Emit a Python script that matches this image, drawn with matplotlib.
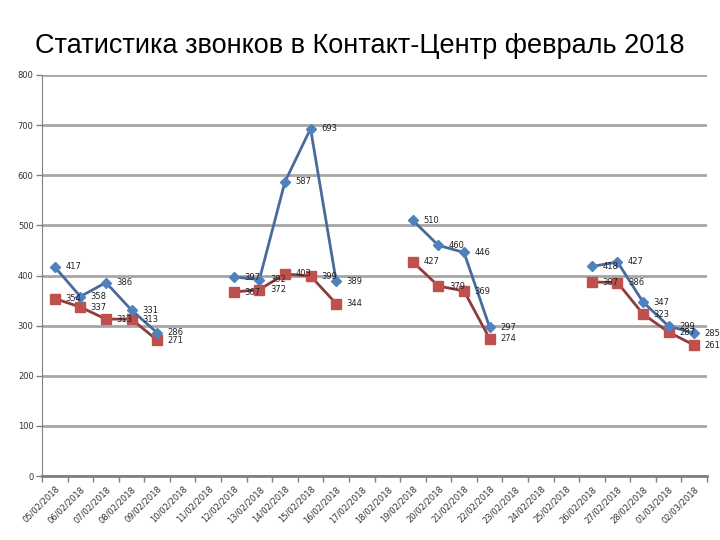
import matplotlib
matplotlib.use("Agg")
import matplotlib.pyplot as plt
import numpy as np

dates = ["05/02/2018", "06/02/2018", "07/02/2018", "08/02/2018", "09/02/2018",
         "10/02/2018", "11/02/2018", "12/02/2018", "13/02/2018", "14/02/2018",
         "15/02/2018", "16/02/2018", "17/02/2018", "18/02/2018", "19/02/2018",
         "20/02/2018", "21/02/2018", "22/02/2018", "23/02/2018", "24/02/2018",
         "25/02/2018", "26/02/2018", "27/02/2018", "28/02/2018", "01/03/2018",
         "02/03/2018"]
received = [417, 358, 386, 331, 286, None, None, 397, 392, 587, 693, 389, None, None,
            510, 460, 446, 297, None, None, None, 418, 427, 347, 299, 285]
answered = [354, 337, 313, 313, 271, None, None, 367, 372, 403, 399, 344, None, None,
            427, 379, 369, 274, None, None, None, 387, 386, 323, 287, 261]
y_ticks = [0, 100, 200, 300, 400, 500, 600, 700, 800]
title = "Статистика звонков в Контакт-Центр февраль 2018"

fig = plt.figure(figsize=(7.2, 5.4), dpi=100)
ax = fig.add_axes([42/720, 1-476/540, (707-42)/720, (476-75)/540])

x = np.arange(len(dates))
def arr(v):
    return np.array([np.nan if a is None else a for a in v], dtype=float)
r = arr(received)
a = arr(answered)

ax.plot(x, r, color="#4a6a9c", lw=2, marker="D", ms=5, mfc="#4f81bd", mec="#4f81bd", zorder=4)
ax.plot(x, a, color="#8e3b3a", lw=2, marker="s", ms=7.5, mfc="#c0504d", mec="#c0504d", zorder=3)

for xi, v in zip(x, received):
    if v is not None:
        ax.annotate(str(v), (xi, v), xytext=(7.5, 0), textcoords="offset points",
                    fontsize=6, va="center", ha="left", color="#222222", zorder=5)
for xi, v in zip(x, answered):
    if v is not None:
        ax.annotate(str(v), (xi, v), xytext=(7.5, 0), textcoords="offset points",
                    fontsize=6, va="center", ha="left", color="#222222", zorder=5)

ax.set_xlim(-0.5, len(dates) - 0.5)
ax.set_ylim(0, 800)
ax.set_yticks(y_ticks)
ax.set_yticklabels([str(t) for t in y_ticks], fontsize=6, color="#333333")
ax.set_xticks(x)
ax.set_xticklabels(dates, rotation=45, ha="right", rotation_mode="anchor", fontsize=6, color="#333333")
ax.set_xticks(np.arange(-0.5, len(dates)), minor=True)
ax.tick_params(axis="x", which="major", length=0, pad=6)
ax.tick_params(axis="x", which="minor", length=4, width=1, color="#808080")
ax.tick_params(axis="y", length=4, width=1, color="#808080", pad=2)
ax.yaxis.grid(True, color="#a6a6a6", lw=2)
ax.set_axisbelow(True)
for s in ["top", "right"]:
    ax.spines[s].set_visible(False)
ax.spines["left"].set_color("#808080")
ax.spines["bottom"].set_color("#808080")
ax.spines["bottom"].set_linewidth(2)

fig.text(0.5, 1-46/540, title, ha="center", va="center", fontsize=19.5, family="Liberation Sans")

fig.savefig("out.png", dpi=100)
